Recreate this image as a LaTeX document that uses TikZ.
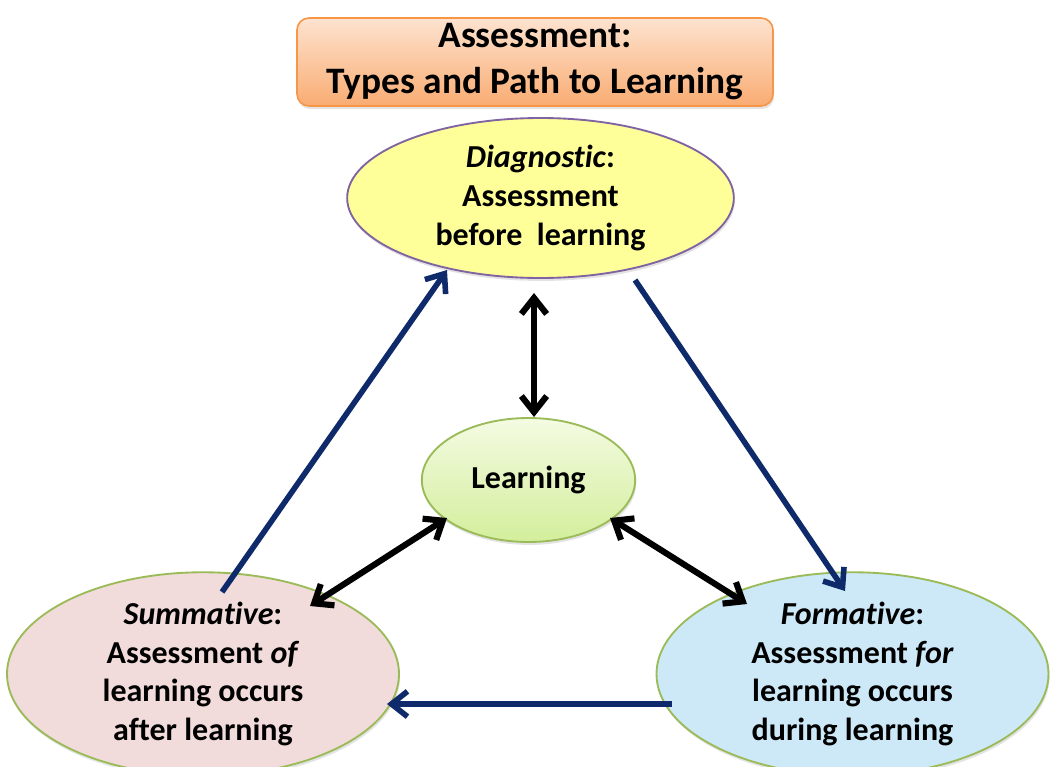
\documentclass[tikz,border=0pt]{standalone}
\usepackage{fontspec}
\setmainfont{Carlito}[Ligatures=NoCommon]
\usetikzlibrary{arrows.meta,shapes.geometric,shadows,calc}
\definecolor{navy}{HTML}{0F2A6B}
\definecolor{titletop}{HTML}{FDE3D0}
\definecolor{titlebot}{HTML}{F9AC72}
\definecolor{titleline}{HTML}{F79646}
\definecolor{diagfill}{HTML}{FFFF99}
\definecolor{diagline}{HTML}{8064A2}
\definecolor{greenline}{HTML}{9BBB59}
\definecolor{learntop}{HTML}{F4FBE2}
\definecolor{learnbot}{HTML}{D3EE9C}
\definecolor{sumfill}{HTML}{F2DCDB}
\definecolor{formfill}{HTML}{CDE9F8}
\tikzset{
  softshadow/.style={drop shadow={opacity=0.22,shadow xshift=0.8pt,shadow yshift=-2.2pt}},
  bubble/.style={ellipse, align=center, inner sep=0pt, line width=1.4pt,
    font=\bfseries\fontsize{24}{29}\selectfont, softshadow},
  titlebox/.style={rounded corners=9pt, draw=titleline, line width=1.2pt,
    top color=titletop, bottom color=titlebot, align=center, inner sep=0pt,
    minimum width=357pt, minimum height=66pt,
    font=\bfseries\fontsize{28}{34.5}\selectfont, softshadow},
}
\begin{document}
\begin{tikzpicture}[x=0.75pt,y=-0.75pt,
  bluearrow/.style={draw=navy, line width=4.2pt, -{Straight Barb[length=12pt,width=19pt]}},
  blackarrow/.style={draw=black, line width=4.6pt,
    {Straight Barb[length=12pt,width=19pt]}-{Straight Barb[length=12pt,width=19pt]}}]
\useasboundingbox (0,0) rectangle (1056,767);

\node[titlebox] (title) at (535,62) {Assessment:\\ Types and Path to Learning};

\node[bubble, fill=diagfill, draw=diagline, minimum width=290pt, minimum height=120pt]
  (diag) at (540.5,198) {\textit{Diagnostic}:\\ Assessment\\ before~ learning};

\node[bubble, top color=learntop, bottom color=learnbot, draw=greenline,
  minimum width=160pt, minimum height=93pt] (learn) at (528.5,480) {Learning};

\node[bubble, fill=sumfill, draw=greenline, minimum width=294pt, minimum height=121.5pt]
  (sum) at (203,674) {\textit{Summative}:\\ Assessment \textit{of}\\ learning occurs\\ after learning};

\node[bubble, fill=formfill, draw=greenline, minimum width=294pt, minimum height=121.5pt]
  (form) at (852.5,674) {\textit{Formative}:\\ Assessment \textit{for}\\ learning occurs\\ during learning};

% cycle arrows
\draw[bluearrow] ($(sum.center)+(19,-82)$) -- ($(diag.center)+(-93.5,72)$);
\draw[bluearrow] ($(diag.center)+(94.5,82)$) -- ($(form.center)+(-7.5,-83)$);
\draw[bluearrow] ($(form.center)+(-180.5,30)$) -- ($(sum.center)+(184,30)$);

% links with learning
\draw[blackarrow] ($(diag.center)+(-6.5,95)$) -- ($(learn.center)+(5.5,-63)$);
\draw[blackarrow] ($(learn.center)+(-81.5,38)$) -- ($(sum.center)+(107,-68)$);
\draw[blackarrow] ($(learn.center)+(81.5,38)$) -- ($(form.center)+(-105.5,-70)$);
\end{tikzpicture}
\end{document}
